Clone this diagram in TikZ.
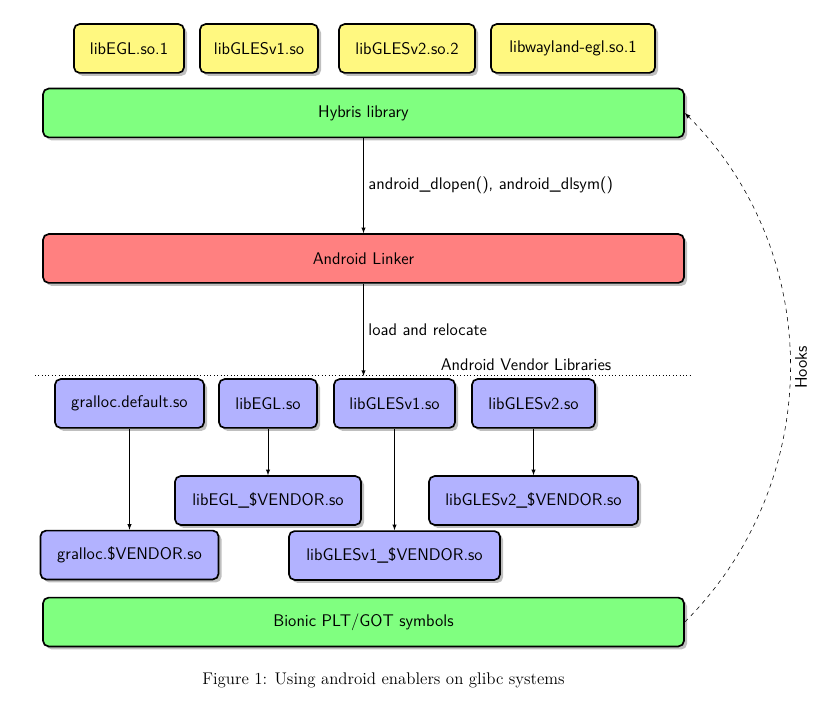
\documentclass[tikz,border=0pt]{standalone}
\usepackage[svgnames]{xcolor}
\usepackage{tikz}
\usetikzlibrary{positioning, shadows}

\begin{document}
\begin{tikzpicture}[x = 0.025cm, y = -0.025cm,
    main/.style = {draw, very thick, rounded corners, drop shadow, minimum height = 1.22cm, font = \large\sffamily},
    lib/.style = {main, fill = yellow!50},
    layer/.style = {main, minimum width = 16.02cm, fill = green!50},
    vendor/.style = {main, fill = blue!30}]
    \useasboundingbox (0,0) rectangle (829,701);
    \node[lib, minimum width = 2.75cm] (egl) at (129,48.5) {libEGL.so.1};
    \node[lib, minimum width = 2.95cm] (gles1) at (259,48.5) {libGLESv1.so};
    \node[lib, minimum width = 3.4cm] (gles2) at (407,48.5) {libGLESv2.so.2};
    \node[lib, minimum width = 4.1cm] (wayland) at (573,48.5) {libwayland-egl.so.1};
    \node[layer] (hybris) at (363.5,113) {Hybris library};
    \node[layer, fill = red!50] (linker) at (363.5,258.5) {Android Linker};
    \coordinate (sepl) at (35,375);
    \coordinate (sepr) at (690,375);
    \coordinate (vendors) at (363.5,376);
    \draw[dotted] (sepl) -- (sepr);
    \node[font = \large\sffamily] (vlabel) at (526,365) {Android Vendor Libraries};
    \node[vendor, minimum width = 3.725cm] (gralloc) at (129.5,403.5) {gralloc.default.so};
    \node[vendor, minimum width = 2.45cm] (vegl) at (268,403.5) {libEGL.so};
    \node[vendor, minimum width = 3.025cm] (vgles1) at (394.5,403.5) {libGLESv1.so};
    \node[vendor, minimum width = 3.075cm] (vgles2) at (533.5,403.5) {libGLESv2.so};
    \node[vendor, minimum width = 4.65cm] (veglv) at (268,500.5) {libEGL\_\$VENDOR.so};
    \node[vendor, minimum width = 5.225cm] (vgles2v) at (533.5,500.5) {libGLESv2\_\$VENDOR.so};
    \node[vendor, minimum width = 4.45cm] (grallocv) at (129.5,555) {gralloc.\$VENDOR.so};
    \node[vendor, minimum width = 5.275cm] (vgles1v) at (394.5,555.5) {libGLESv1\_\$VENDOR.so};
    \node[layer] (bionic) at (363.5,622) {Bionic PLT/GOT symbols};
    \node[font = \large] (caption) at (383.5,680) {Figure 1: Using android enablers on glibc systems};
    \draw[-latex] (hybris) -- node[right, font = \large\sffamily] {android\_dlopen(), android\_dlsym()} (linker);
    \draw[-latex] (linker) -- node[right, font = \large\sffamily] {load and relocate} (vendors);
    \draw[-latex] (gralloc) -- (grallocv);
    \draw[-latex] (vegl) -- (veglv);
    \draw[-latex] (vgles1) -- (vgles1v);
    \draw[-latex] (vgles2) -- (vgles2v);
    \draw[dashed, -latex] (bionic.east) to[bend right = 45] node[midway, sloped, below, font = \large\sffamily] {Hooks} (hybris.east);
\end{tikzpicture}
\end{document}
